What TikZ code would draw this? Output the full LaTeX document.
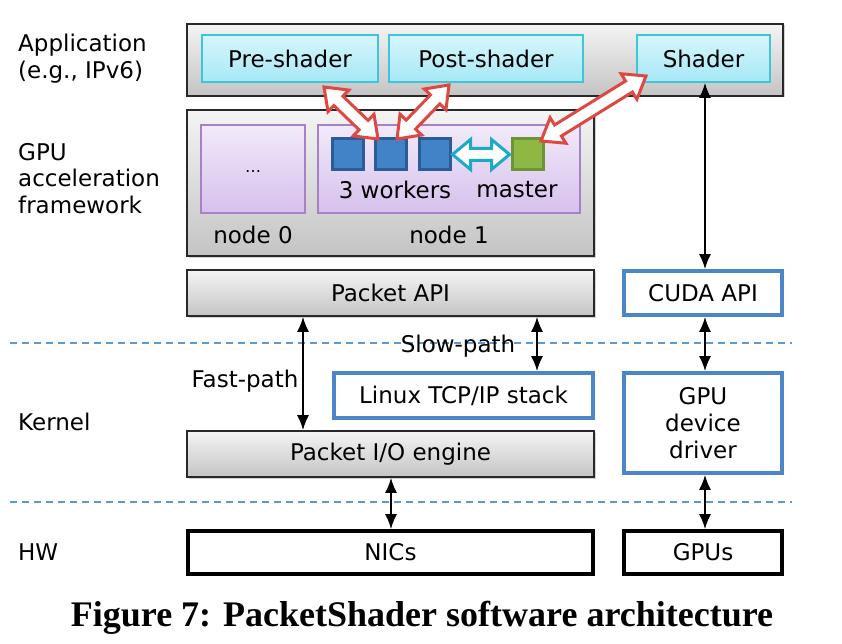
\documentclass[tikz,border=0pt]{standalone}
\usepackage{fontspec}
\setmainfont{DejaVu Sans}
\newfontfamily\capfont{Liberation Serif}
\usetikzlibrary{calc,arrows.meta,shadows}
\definecolor{boxgrayT}{RGB}{244,244,244}
\definecolor{boxgrayB}{RGB}{196,196,196}
\definecolor{cyanT}{RGB}{214,246,252}
\definecolor{cyanB}{RGB}{166,232,246}
\definecolor{cyanE}{RGB}{64,196,222}
\definecolor{purT}{RGB}{242,234,250}
\definecolor{purB}{RGB}{214,192,236}
\definecolor{purE}{RGB}{168,128,200}
\definecolor{blueE}{RGB}{74,134,200}
\definecolor{dashblue}{RGB}{91,155,213}
\definecolor{wkF}{RGB}{66,130,198}
\definecolor{wkE}{RGB}{44,92,150}
\definecolor{msF}{RGB}{142,184,68}
\definecolor{msE}{RGB}{110,146,52}
\definecolor{redA}{RGB}{222,72,66}
\definecolor{tealA}{RGB}{26,170,198}
\newcommand\fatarr[6]{%
\draw[#3, line width=3pt, fill=white, line join=miter]
 (#1) -- ($(#1)!#6!(#2)!#5!90:(#2)$) -- ($(#1)!#6!(#2)!#4!90:(#2)$)
 -- ($(#2)!#6!(#1)!#4!-90:(#1)$) -- ($(#2)!#6!(#1)!#5!-90:(#1)$) -- (#2)
 -- ($(#2)!#6!(#1)!#5!90:(#1)$) -- ($(#2)!#6!(#1)!#4!90:(#1)$)
 -- ($(#1)!#6!(#2)!#4!-90:(#2)$) -- ($(#1)!#6!(#2)!#5!-90:(#2)$) -- cycle;}
\tikzset{
  txt/.style={font=\fontsize{23}{27}\selectfont, inner sep=0pt},
  graybox/.style={txt, draw={rgb,255:red,40;green,40;blue,40}, line width=1.8pt, top color=boxgrayT, bottom color=boxgrayB,
     drop shadow={shadow xshift=1.5pt, shadow yshift=-1.5pt, opacity=0.35}},
  cyanbox/.style={txt, draw=cyanE, line width=1.8pt, top color=cyanT, bottom color=cyanB},
  purbox/.style={txt, draw=purE, line width=1.5pt, top color=purT, bottom color=purB},
  bluebox/.style={txt, draw=blueE, line width=3.8pt, fill=white},
  blackbox/.style={txt, draw=black, line width=3.8pt, fill=white},
  worker/.style={draw=wkE, line width=3pt, fill=wkF, minimum size=31pt, inner sep=0pt},
  masterbox/.style={draw=msE, line width=3pt, fill=msF, minimum size=31pt, inner sep=0pt},
  darr/.style={line width=1.6pt, {Latex[length=15pt,width=12pt]}-{Latex[length=15pt,width=12pt]}},
  sep/.style={dashblue, line width=1.5pt, dash pattern=on 7pt off 5pt},
}
\begin{document}
\begin{tikzpicture}[x=1pt,y=-1pt]
\useasboundingbox (0,0) rectangle (842,644);
% separators
\draw[sep] (10,343) -- (792,343);
\draw[sep] (10,502) -- (792,502);
% application
\node[graybox, minimum width=596pt, minimum height=72pt] (app) at (485,60) {};
\node[cyanbox, minimum width=176pt, minimum height=47pt] (pre) at (290,58.5) {Pre-shader};
\node[cyanbox, minimum width=194pt, minimum height=47pt] (post) at (486,58.5) {Post-shader};
\node[cyanbox, minimum width=133pt, minimum height=47pt] (shader) at (703.5,58.5) {Shader};
% gpu framework
\node[graybox, minimum width=407pt, minimum height=146pt] (fw) at (390.5,183) {};
\node[purbox, minimum width=104pt, minimum height=88pt] (node0) at (253,169) {};
\node[txt, font=\fontsize{16}{18}\selectfont] (dots) at (253,172) {…};
\node[purbox, minimum width=262pt, minimum height=88pt] (node1) at (449,169) {};
\node[worker] (w1) at (347.5,154.5) {};
\node[worker] (w2) at (390.5,154.5) {};
\node[worker] (w3) at (434.5,154.5) {};
\node[masterbox] (ms) at (527.5,154.5) {};
\node[txt] (lw) at (395,190) {3 workers};
\node[txt] (lm) at (517,190) {master};
\node[txt] (ln0) at (253,235) {node 0};
\node[txt] (ln1) at (449,235) {node 1};
% apis
\node[graybox, minimum width=407pt, minimum height=46pt] (papi) at (390.5,293) {Packet API};
\node[bluebox, minimum width=158pt, minimum height=44pt] (cuda) at (703,293) {CUDA API};
\node[bluebox, minimum width=259pt, minimum height=45pt] (tcp) at (463.5,395.5) {Linux TCP/IP stack};
\node[bluebox, minimum width=158pt, minimum height=100pt, align=center, font=\fontsize{23}{27}\selectfont] (drv) at (703,423) {GPU\\device\\driver};
\node[graybox, minimum width=407pt, minimum height=46pt] (pio) at (390.5,454) {Packet I/O engine};
\node[blackbox, minimum width=405pt, minimum height=43pt] (nics) at (390.5,552.5) {NICs};
\node[blackbox, minimum width=158pt, minimum height=43pt] (gpus) at (703,552.5) {GPUs};
% left labels
\node[txt, anchor=west, align=left, font=\fontsize{23}{27}\selectfont] (lapp) at (18,58.5) {Application\\(e.g., IPv6)};
\node[txt, anchor=west, align=left, font=\fontsize{23}{26.5}\selectfont] (lgpu) at (18,178.5) {GPU\\acceleration\\framework};
\node[txt, anchor=west] (lk) at (18,422) {Kernel};
\node[txt, anchor=west] (lhw) at (18,552) {HW};
\node[txt] (lfast) at (245,381) {Fast-path};
\node[txt] (lslow) at (458,346) {Slow-path};
% black arrows
\draw[darr] (papi.south -| 303,0) -- (pio.north -| 303,0);
\draw[darr] (papi.south -| 537,0) -- (tcp.north -| 537,0);
\draw[darr] (pio.south -| 391,0) -- (nics.north -| 391,0);
\draw[darr] (shader.south -| 705,0) -- (cuda.north -| 705,0);
\draw[darr] (cuda.south -| 705,0) -- (drv.north -| 705,0);
\draw[darr] (drv.south -| 705,0) -- (gpus.north -| 705,0);
% fat arrows
\coordinate (a1) at (324,87); \coordinate (b1) at (378,139);
\coordinate (a2) at (449,85); \coordinate (b2) at (397,139);
\coordinate (a3) at (646,76); \coordinate (b3) at (541,141);
\fatarr{a1}{b1}{redA}{6.5pt}{15pt}{20pt}
\fatarr{a2}{b2}{redA}{6.5pt}{15pt}{20pt}
\fatarr{a3}{b3}{redA}{6.5pt}{15pt}{20pt}
\coordinate (t1) at ($(w3.east)+(1,0)$); \coordinate (t2) at ($(ms.west)+(-1,0)$);
\fatarr{t1}{t2}{tealA}{6pt}{15pt}{18pt}
% caption
\node[font=\capfont\bfseries\fontsize{36}{40}\selectfont, inner sep=0pt] (cap) at (422,618) {Figure 7: PacketShader software architecture};
\end{tikzpicture}
\end{document}
